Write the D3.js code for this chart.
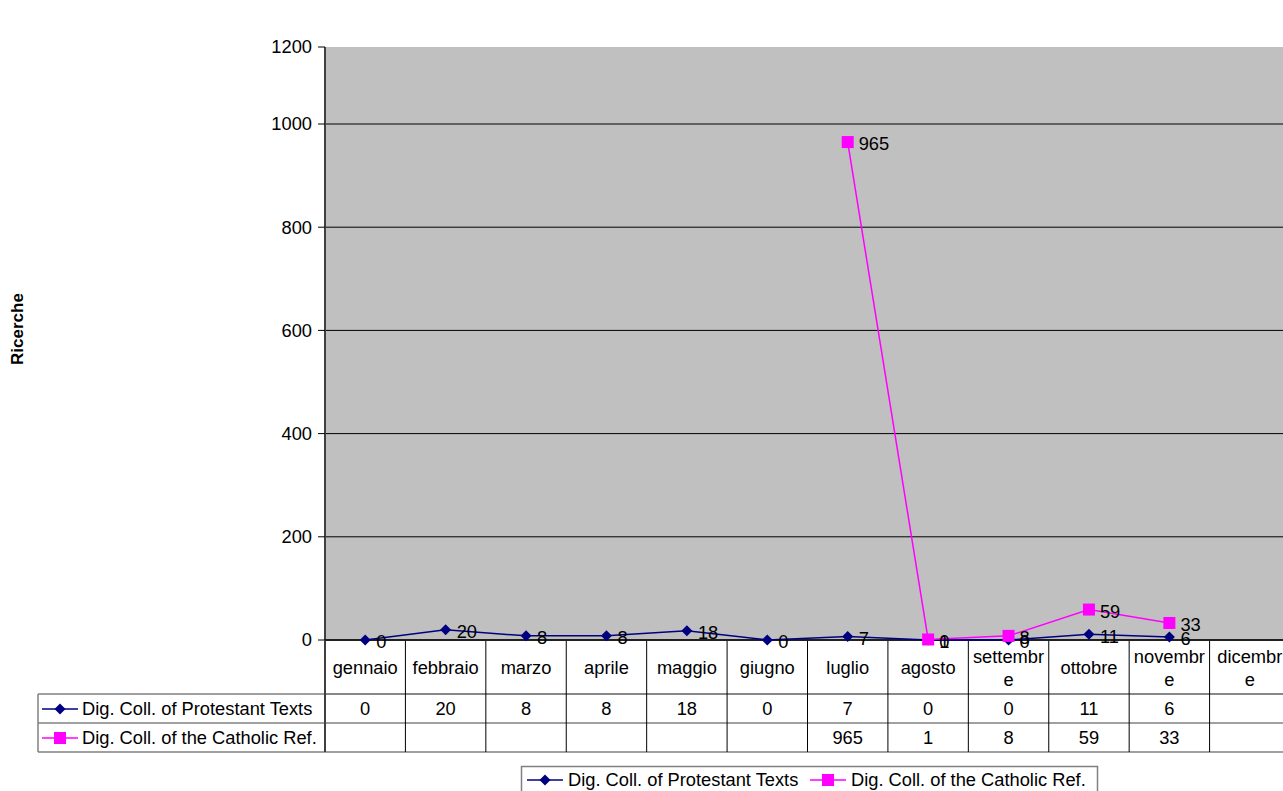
<!DOCTYPE html>
<html><head><meta charset="utf-8">
<script src="https://cdn.jsdelivr.net/npm/d3@7"></script>
<style>body{margin:0;background:#fff;overflow:hidden}svg{display:block}text{font-family:"Liberation Sans",Arial,sans-serif}</style>
</head><body>
<svg id="c" width="1283" height="791"></svg>
<script>
const months = ["gennaio","febbraio","marzo","aprile","maggio","giugno","luglio","agosto","settembre","ottobre","novembre","dicembre"];
const monthLines = [["gennaio"],["febbraio"],["marzo"],["aprile"],["maggio"],["giugno"],["luglio"],["agosto"],["settembr","e"],["ottobre"],["novembr","e"],["dicembr","e"]];
const protestant = [0,20,8,8,18,0,7,0,0,11,6,null];
const catholic = [null,null,null,null,null,null,965,1,8,59,33,null];
const seriesNames = ["Dig. Coll. of Protestant Texts","Dig. Coll. of the Catholic Ref."];
const yTicks = [0,200,400,600,800,1000,1200];
const yTitle = "Ricerche";

const FS = 18.3;
const svg = d3.select("#c");
const L = 325, R = 1290, T = 47, B = 640;
const x = d3.scaleBand().domain(months).range([L, R]);
const y = d3.scaleLinear().domain([0, 1200]).range([B, B - 1.2*516]);
const yPos = t => Math.max(T, y(t));

svg.append("rect").attr("x", L).attr("y", T).attr("width", R - L).attr("height", B - T).attr("fill", "#C0C0C0");
svg.append("g").selectAll("line").data(yTicks.filter(t => t > 0 && t < 1200)).join("line")
  .attr("x1", L).attr("x2", R).attr("y1", d => y(d)).attr("y2", d => y(d)).attr("stroke", "#000").attr("stroke-width", 1);

const ya = svg.append("g");
ya.append("line").attr("x1", L).attr("x2", L).attr("y1", T).attr("y2", B).attr("stroke", "#404040").attr("stroke-width", 2);
ya.selectAll("line.t").data(yTicks).join("line").attr("class","t")
  .attr("x1", L - 7).attr("x2", L).attr("y1", d => yPos(d)).attr("y2", d => yPos(d)).attr("stroke", "#000");
ya.selectAll("text").data(yTicks).join("text")
  .attr("x", 312).attr("y", d => yPos(d)).attr("dy", "0.35em").attr("text-anchor", "end")
  .attr("font-size", FS).text(d => d);
svg.append("text").attr("transform", "translate(23,329) rotate(-90)").attr("text-anchor", "middle")
  .attr("font-size", 17).attr("font-weight", "bold").text(yTitle);

const rowTop = B, row1 = 694, row2 = 723, rowEnd = 752, tableLeft = 38;
const tg = svg.append("g");
[[L, row1], [tableLeft, row1], [tableLeft, row2], [tableLeft, rowEnd]].forEach(([x0, yy]) => {
  tg.append("line").attr("x1", x0).attr("x2", R).attr("y1", yy).attr("y2", yy).attr("stroke", "#808080").attr("stroke-width", 1.5);
});
tg.append("line").attr("x1", tableLeft).attr("x2", tableLeft).attr("y1", row1).attr("y2", rowEnd).attr("stroke", "#808080").attr("stroke-width", 1.5);
tg.selectAll("line.v").data(months.slice(1)).join("line").attr("class","v")
  .attr("x1", d => x(d)).attr("x2", d => x(d)).attr("y1", rowTop).attr("y2", rowEnd).attr("stroke", "#000").attr("stroke-width", 1);
tg.append("line").attr("x1", L).attr("x2", L).attr("y1", rowTop).attr("y2", rowEnd).attr("stroke", "#404040").attr("stroke-width", 2);
months.forEach((m, i) => {
  const lines = monthLines[i];
  const cx = x(m) + x.bandwidth()/2;
  lines.forEach((ln, j) => {
    const cy = lines.length === 1 ? 668 : 657 + j*23;
    tg.append("text").attr("x", cx).attr("y", cy).attr("dy", "0.35em").attr("text-anchor", "middle").attr("font-size", FS).text(ln);
  });
});
[protestant, catholic].forEach((arr, si) => {
  const cy = si === 0 ? 709 : 738;
  arr.forEach((v, i) => {
    if (v == null) return;
    tg.append("text").attr("x", x(months[i]) + x.bandwidth()/2).attr("y", cy).attr("dy", "0.35em")
      .attr("text-anchor", "middle").attr("font-size", FS).text(v);
  });
});

const colors = ["#000080", "#FF00FF"];
function marker(g, si, cx, cy) {
  if (si === 0) {
    g.append("path").attr("d", "M0,-5.5L5.5,0L0,5.5L-5.5,0Z").attr("transform", `translate(${cx},${cy})`).attr("fill", colors[0]);
  } else {
    g.append("rect").attr("x", cx - 6).attr("y", cy - 6).attr("width", 12).attr("height", 12).attr("fill", colors[1]);
  }
}
function key(g, si, x0, cy) {
  g.append("line").attr("x1", x0).attr("x2", x0 + 36).attr("y1", cy).attr("y2", cy).attr("stroke", colors[si]).attr("stroke-width", 1.5);
  marker(g, si, x0 + 18, cy);
}
key(tg, 0, 42, 709); tg.append("text").attr("x", 82).attr("y", 709).attr("dy", "0.35em").attr("font-size", FS).text(seriesNames[0]);
key(tg, 1, 42, 738); tg.append("text").attr("x", 82).attr("y", 738).attr("dy", "0.35em").attr("font-size", FS).text(seriesNames[1]);

svg.append("line").attr("x1", L).attr("x2", R).attr("y1", B).attr("y2", B).attr("stroke", "#202020").attr("stroke-width", 2);

const cxOf = i => x(months[i]) + x.bandwidth()/2;
const sg = svg.append("g");
[protestant, catholic].forEach((arr, si) => {
  const pts = arr.map((v, i) => ({v, i})).filter(d => d.v != null);
  sg.append("path").datum(pts).attr("fill", "none").attr("stroke", colors[si]).attr("stroke-width", 1.5)
    .attr("d", d3.line().x(d => cxOf(d.i)).y(d => y(d.v)));
});
[protestant, catholic].forEach((arr, si) => {
  arr.forEach((v, i) => { if (v != null) marker(sg, si, cxOf(i), y(v)); });
});
[protestant, catholic].forEach((arr, si) => {
  arr.forEach((v, i) => {
    if (v == null) return;
    sg.append("text").attr("x", cxOf(i) + 11).attr("y", y(v) + 2).attr("dy", "0.35em").attr("font-size", FS).attr("fill", "#000").text(v);
  });
});

const lg = svg.append("g");
lg.append("rect").attr("x", 521.5).attr("y", 766.5).attr("width", 576).attr("height", 40).attr("fill", "#fff").attr("stroke", "#808080").attr("stroke-width", 1.5);
key(lg, 0, 527, 780); lg.append("text").attr("x", 568).attr("y", 780).attr("dy", "0.35em").attr("font-size", FS).text(seriesNames[0]);
key(lg, 1, 810, 780); lg.append("text").attr("x", 851).attr("y", 780).attr("dy", "0.35em").attr("font-size", FS).text(seriesNames[1]);
</script>
</body></html>
